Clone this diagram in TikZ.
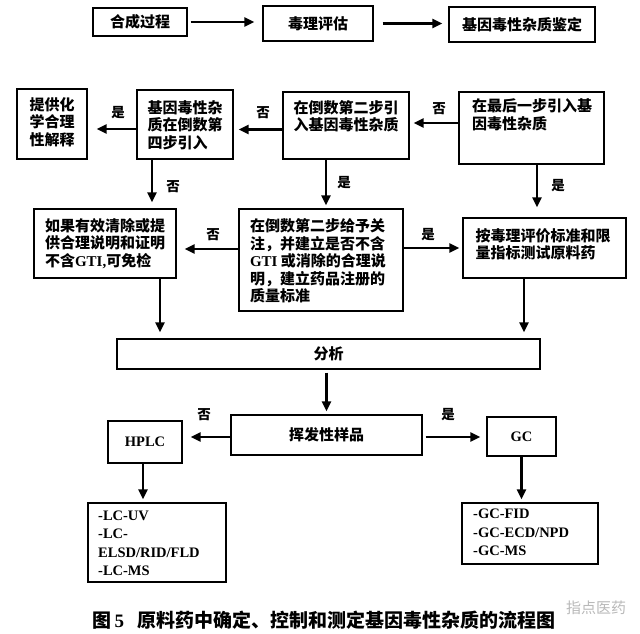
\documentclass[tikz,border=0pt]{standalone}
\usepackage{fontspec}
\setmainfont{Liberation Serif}
\newfontfamily\cjk{Noto Sans CJK SC}
\usetikzlibrary{arrows.meta,fit,calc}
\newcommand\lt[1]{{\rmfamily\bfseries #1}}
\begin{document}
\begin{tikzpicture}[x=1pt,y=-1pt,
  box/.style={draw, line width=1.4pt, inner sep=0pt},
  txt/.style={font=\cjk\bfseries\fontsize{15}{17.5}\selectfont, align=left, inner sep=0pt},
  lat/.style={font=\rmfamily\bfseries\fontsize{14.5}{18.5}\selectfont, align=left, inner sep=0pt},
  lab/.style={font=\cjk\bfseries\fontsize{13.5}{15}\selectfont, inner sep=0pt},
  arr/.style={line width=2.3pt, -{Triangle[length=10pt,width=9pt]}, shorten >=4pt}]
\fill[white] (0,0) rectangle (640,633);
\useasboundingbox (0,0) rectangle (640,633);

% boxes
\node[box, fit={(93,8)(187,36)}] (a) {};
\node[box, fit={(263,6)(373,41)}] (b) {};
\node[box, fit={(449,7)(595,42)}] (c) {};
\node[box, fit={(17,89)(87,159)}] (b1) {};
\node[box, fit={(137,90)(233,159)}] (b2) {};
\node[box, fit={(283,92)(409,159)}] (b3) {};
\node[box, fit={(459,92)(604,164)}] (b4) {};
\node[box, fit={(34,209)(176,278)}] (b5) {};
\node[box, fit={(239,209)(403,311)}] (b6) {};
\node[box, fit={(463,218)(626,278)}] (b7) {};
\node[box, fit={(117,339)(540,369)}] (an) {};
\node[box, fit={(231,415)(422,455)}] (vol) {};
\node[box, fit={(108,421)(182,463)}] (hplc) {};
\node[box, fit={(487,417)(556,456)}] (gc) {};
\node[box, fit={(88,503)(226,582)}] (lc) {};
\node[box, fit={(462,503)(598,564)}] (gcm) {};

% texts
\node[txt] (at) at (a) {合成过程};
\node[txt] (bt) at (b) {毒理评估};
\node[txt] (ct) at (c) {基因毒性杂质鉴定};
\node[txt] (b1t) at (52,122) {提供化\\学合理\\性解释};
\node[txt] (b2t) at (185,125) {基因毒性杂\\质在倒数第\\四步引入};
\node[txt] (b3t) at (346,116) {在倒数第二步引\\入基因毒性杂质};
\node[txt] (b4t) at (532,115) {在最后一步引入基\\因毒性杂质};
\node[txt] (b5t) at (105,243.5) {如果有效清除或提\\供合理说明和证明\\不含\lt{GTI,}可免检};
\node[txt] (b6t) at (318,261) {在倒数第二步给予关\\注，并建立是否不含\\\lt{GTI} 或消除的合理说\\明，建立药品注册的\\质量标准};
\node[txt] (b7t) at (543,244) {按毒理评价标准和限\\量指标测试原料药};
\node[txt] (ant) at (an) {分析};
\node[txt] (volt) at (vol) {挥发性样品};
\node[lat] (hplct) at (hplc) {HPLC};
\node[lat] (gct) at (gc) {GC};
\node[lat, anchor=west] (lct) at (98,543.5) {-LC-UV\\-LC-\\ELSD/RID/FLD\\-LC-MS};
\node[lat, anchor=west] (gcmt) at (473,532.5) {-GC-FID\\-GC-ECD/NPD\\-GC-MS};

% labels
\node[lab] (l1) at (118,113) {是};
\node[lab] (l2) at (263,113) {否};
\node[lab] (l3) at (439,109) {否};
\node[lab] (l4) at (173,187) {否};
\node[lab] (l5) at (344,183) {是};
\node[lab] (l6) at (558,186) {是};
\node[lab] (l7) at (213,235) {否};
\node[lab] (l8) at (428,235) {是};
\node[lab] (l9) at (204,415) {否};
\node[lab] (l10) at (448,415) {是};

% connectors
\draw[arr, shorten <=3pt, shorten >=8pt] (a.east) -- (a.east -| b.west);
\draw[arr, shorten <=9pt, shorten >=6pt] (b.east) -- (b.east -| c.west);
\coordinate (yb2) at ($(b2.west)+(0,4.5)$);
\draw[arr, shorten >=9pt] (yb2) -- (yb2 -| b1.east);
\coordinate (yb3) at ($(b3.west)+(0,4)$);
\draw[arr, shorten >=5pt] (yb3) -- (yb3 -| b2.east);
\coordinate (yb4) at ($(b4.west)+(0,-5)$);
\draw[arr, shorten >=4pt] (yb4) -- (yb4 -| b3.east);
\coordinate (x1) at ($(b2.south)+(-33,0)$);
\draw[arr, shorten >=6pt] (x1) -- (x1 |- b5.north);
\coordinate (x2) at ($(b6.north)+(5,0)$);
\draw[arr, shorten >=3pt] (x2 |- b3.south) -- (x2);
\coordinate (x3) at ($(b4.south)+(5.5,0)$);
\draw[arr, shorten >=10pt] (x3) -- (x3 |- b7.north);
\coordinate (y1) at ($(b5.east)+(0,5.5)$);
\draw[arr, shorten >=8pt] (y1 -| b6.west) -- (y1);
\draw[arr, shorten >=3pt] (b6.east |- b7.west) -- (b7.west);
\coordinate (x4) at ($(b5.south)+(55,0)$);
\draw[arr, shorten >=6pt] (x4) -- (x4 |- an.north);
\coordinate (x5) at ($(b7.south)+(-20.5,0)$);
\draw[arr, shorten >=6pt] (x5) -- (x5 |- an.north);
\draw[arr, shorten <=3pt, shorten >=3pt] (an.south -| vol.north) -- (vol.north);
\coordinate (y2) at ($(vol.west)+(0,2)$);
\draw[arr, shorten >=8pt] (y2) -- (y2 -| hplc.east);
\draw[arr, shorten <=3pt, shorten >=6pt] (y2 -| vol.east) -- (y2 -| gc.west);
\coordinate (x6) at ($(hplc.south)+(-2,0)$);
\draw[arr, shorten >=3pt] (x6) -- (x6 |- lc.north);
\draw[arr, shorten >=3pt] (gc.south) -- (gc.south |- gcm.north);

% caption and watermark
\node[font=\cjk\bfseries\fontsize{19}{21}\selectfont, inner sep=0pt] (cap) at (324,620) {图\,{\rmfamily\bfseries 5}\hspace{0.7em}原料药中确定、控制和测定基因毒性杂质的流程图};
\node[font=\cjk\fontsize{15}{16}\selectfont, text=gray!55, inner sep=0pt] (wm) at (596,608) {指点医药};
\end{tikzpicture}
\end{document}
